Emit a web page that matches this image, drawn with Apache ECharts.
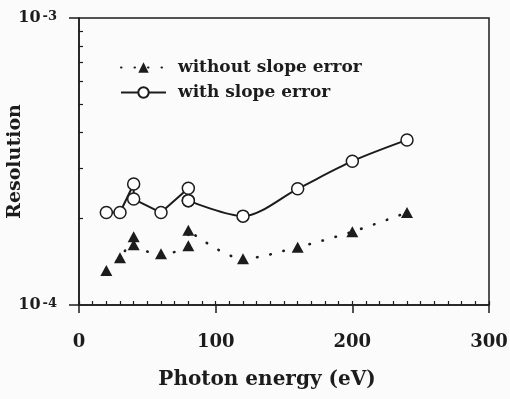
<!DOCTYPE html>
<html>
<head>
<meta charset="utf-8">
<style>
  html, body { margin: 0; padding: 0; background: #fbfbfb; }
  #chart { width: 510px; height: 399px; }
</style>
<script src="https://cdn.jsdelivr.net/npm/echarts@6/dist/echarts.min.js"></script>
</head>
<body>
<div id="chart"></div>
<script>
// Photon energies (eV) at which resolution was evaluated
const energies = [20, 30, 40, 40, 60, 80, 80, 120, 160, 200, 240];
// Resolution without mirror slope error
const withoutSlopeEnergies = [20, 30, 40, 40, 60, 80, 80, 120, 160, 200, 240];
const withoutSlope = [1.32e-4, 1.46e-4, 1.73e-4, 1.62e-4, 1.51e-4, 1.61e-4, 1.82e-4, 1.45e-4, 1.59e-4, 1.80e-4, 2.10e-4];
// Resolution including mirror slope error
const withSlope = [2.10e-4, 2.10e-4, 2.64e-4, 2.34e-4, 2.10e-4, 2.55e-4, 2.31e-4, 2.04e-4, 2.54e-4, 3.17e-4, 3.76e-4];
// the "with slope error" curve is straight through the low-energy pairs and smooth from 80 eV on
const withSlopeBend = 6;

const xTicks = [0, 100, 200, 300];
const yRange = [1e-4, 1e-3];
const yMinorTicks = [2e-4, 3e-4, 4e-4, 5e-4, 6e-4, 7e-4, 8e-4, 9e-4];

const ink = '#1c1c1c';
const font = '"DejaVu Serif", "Liberation Serif", serif';

const pairs = (xs, ys) => xs.map((x, i) => [x, ys[i]]);
const withSlopePoints = pairs(energies, withSlope);

const circleStyle = {
  type: 'line', name: 'with slope error',
  symbol: 'circle', symbolSize: 12, showAllSymbol: true,
  itemStyle: { color: '#ffffff', borderColor: ink, borderWidth: 1.5 },
  lineStyle: { color: ink, width: 2 },
  z: 4
};

const chart = echarts.init(document.getElementById('chart'), null, { renderer: 'canvas' });

chart.setOption({
  backgroundColor: '#fbfbfb',
  animation: false,
  grid: {
    left: 79, right: 21, top: 18, bottom: 94,
    containLabel: false, outerBoundsMode: 'none',
    show: true, borderColor: ink, borderWidth: 1.5,
    backgroundColor: 'transparent'
  },
  legend: {
    left: 115, top: 54, orient: 'vertical',
    itemWidth: 45, itemHeight: 13, itemGap: 8,
    textStyle: { fontFamily: font, fontWeight: 'bold', fontSize: 17, color: ink, padding: [0, 0, 0, 7] },
    data: ['without slope error', 'with slope error']
  },
  xAxis: [
    {
      type: 'value', min: xTicks[0], max: xTicks[xTicks.length - 1], interval: 100,
      position: 'bottom',
      name: 'Photon energy (eV)', nameLocation: 'middle', nameGap: 65, nameMoveOverlap: false,
      nameTextStyle: { fontFamily: font, fontWeight: 'bold', fontSize: 20, color: ink, padding: [0, 34, 0, 0] },
      axisLine: { lineStyle: { color: ink, width: 1.5 } },
      axisTick: { inside: false, length: 8, lineStyle: { color: ink, width: 1.5 } },
      axisLabel: { margin: 28, fontFamily: font, fontWeight: 'bold', fontSize: 18, color: ink },
      splitLine: { show: false }
    },
    {
      // fine inward ticks every 10 eV
      type: 'value', min: 0, max: 300, interval: 10, position: 'bottom',
      axisLine: { show: false },
      axisTick: { inside: true, length: 4, lineStyle: { color: ink, width: 1.2 } },
      axisLabel: { show: false },
      splitLine: { show: false }
    }
  ],
  yAxis: [
    {
      type: 'log', logBase: 10, min: yRange[0], max: yRange[1], interval: 1,
      position: 'left',
      name: 'Resolution', nameLocation: 'middle', nameGap: 54, nameRotate: 90, nameMoveOverlap: false,
      nameTextStyle: { fontFamily: font, fontWeight: 'bold', fontSize: 19, color: ink },
      axisLine: { show: true, lineStyle: { color: ink, width: 1.5 } },
      axisTick: { inside: false, length: 10, lineStyle: { color: ink, width: 1.5 } },
      axisLabel: {
        margin: 22,
        formatter: v => '{b|10}{s|' + Math.round(Math.log10(v)) + '}',
        rich: {
          b: { fontFamily: font, fontWeight: 'bold', fontSize: 16, color: ink },
          s: { fontFamily: font, fontWeight: 'bold', fontSize: 13, color: ink, verticalAlign: 'top', padding: [0, 0, 0, 2] }
        }
      },
      splitLine: { show: false }
    },
    {
      // decade exponent scale, carrying the inward minor ticks at 2..9 x 10^-4
      type: 'value', min: Math.log10(yRange[0]), max: Math.log10(yRange[1]), position: 'left',
      axisLine: { show: false },
      axisTick: { inside: true, length: 4, customValues: yMinorTicks.map(Math.log10), lineStyle: { color: ink, width: 1.2 } },
      axisLabel: { show: false },
      splitLine: { show: false }
    }
  ],
  series: [
    {
      name: 'without slope error', type: 'line',
      data: pairs(withoutSlopeEnergies, withoutSlope),
      smooth: 0.3,
      symbol: 'triangle', symbolSize: [12, 11],
      itemStyle: { color: ink, borderWidth: 0 },
      lineStyle: { color: ink, width: 2.6, type: [0.5, 13], cap: 'round' },
      z: 3
    },
    Object.assign({}, circleStyle, { data: withSlopePoints.slice(0, withSlopeBend + 1), smooth: false }),
    Object.assign({}, circleStyle, { data: withSlopePoints.slice(withSlopeBend), smooth: 0.3 })
  ]
});
</script>
</body>
</html>
